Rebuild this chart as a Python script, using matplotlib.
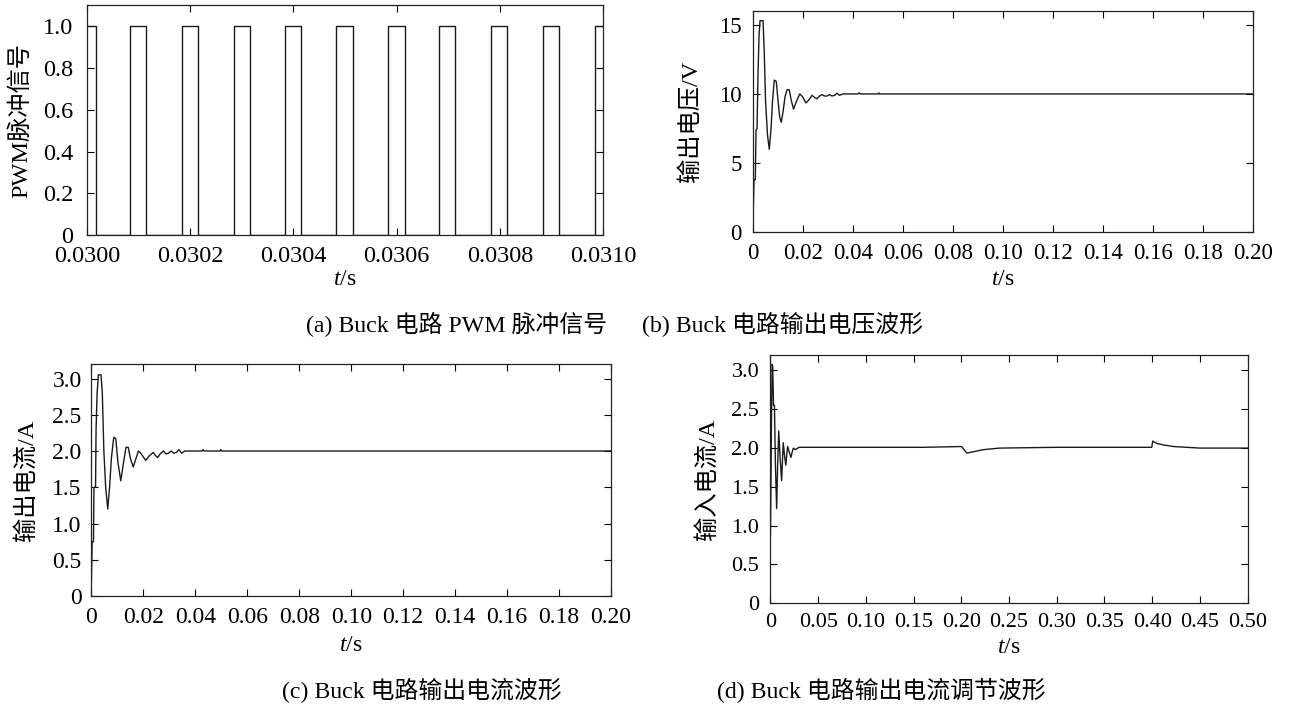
import numpy as np
import matplotlib
matplotlib.use('Agg')
import matplotlib.pyplot as plt

plt.rcParams['font.family'] = ['Liberation Serif', 'Noto Sans CJK SC']
plt.rcParams['mathtext.fontset'] = 'custom'
plt.rcParams['mathtext.rm'] = 'Liberation Serif'
plt.rcParams['mathtext.it'] = 'Liberation Serif:italic'

# (a) PWM pulse edges
pwm_rise = [0.0300831, 0.0301843, 0.0302848, 0.0303829, 0.0304834,
            0.0305839, 0.0306820, 0.0307824, 0.0308837, 0.0309842]
pwm_fall = [0.0300174, 0.0301147, 0.0302160, 0.0303165, 0.0304146,
            0.0305150, 0.0306155, 0.0307136, 0.0308141, 0.0309153]

# (b) output voltage
v_t = [0.0, 0.0004, 0.0009, 0.0012, 0.0016, 0.002, 0.0024, 0.0028, 0.004,
       0.0045, 0.005, 0.0058, 0.0065, 0.0072, 0.0078, 0.0085, 0.0093, 0.0100,
       0.0107, 0.0113, 0.0120, 0.0128, 0.0136, 0.0145, 0.0152, 0.0162, 0.0172,
       0.0187, 0.0198, 0.0212, 0.0225, 0.0236, 0.0246, 0.0256, 0.0266, 0.0276,
       0.0286, 0.0296, 0.0306, 0.0316, 0.0326, 0.0336, 0.0346, 0.036, 0.042,
       0.0425, 0.043, 0.05, 0.0503, 0.0506, 0.2]
v_val = [1.0, 3.8, 3.8, 7.4, 7.5, 11.5, 14.2, 15.3, 15.3,
         13.0, 9.5, 7.0, 6.0, 7.5, 9.5, 11.0, 10.9, 9.5,
         8.3, 7.95, 8.7, 9.8, 10.3, 10.3, 9.6, 8.9, 9.4,
         10.0, 9.8, 9.35, 9.6, 9.9, 9.75, 9.65, 9.85, 9.95,
         9.85, 9.85, 9.95, 9.85, 9.9, 10.05, 9.9, 10.0, 10.0,
         10.08, 10.0, 10.0, 10.08, 10.0, 10.0]

# (c) output current
io_t = [0.0, 0.0003, 0.0008, 0.001, 0.0016, 0.0018, 0.0022, 0.0027, 0.0037,
        0.0042, 0.0048, 0.0055, 0.0063, 0.007, 0.0077, 0.0086, 0.0094, 0.0102,
        0.0113, 0.0122, 0.0133, 0.0142, 0.015, 0.0161, 0.017, 0.0181, 0.019,
        0.0209, 0.0222, 0.0238, 0.0246, 0.0255, 0.0265, 0.0277, 0.0287, 0.0297,
        0.0307, 0.0317, 0.0327, 0.0337, 0.0347, 0.036, 0.0426, 0.043, 0.0434,
        0.0495, 0.0498, 0.0501, 0.2]
io_val = [0.2, 0.75, 0.75, 1.5, 1.5, 2.3, 2.8, 3.05, 3.05,
          2.8, 2.0, 1.5, 1.2, 1.5, 1.9, 2.19, 2.17, 1.85,
          1.59, 1.8, 2.05, 2.05, 1.9, 1.78, 1.88, 2.0, 1.97,
          1.87, 1.93, 1.98, 1.94, 1.91, 1.96, 2.0, 1.96, 1.97,
          2.0, 1.97, 1.98, 2.02, 1.97, 2.0, 2.0, 2.02, 2.0,
          2.0, 2.02, 2.0, 2.0]

# (d) input current
ii_t = [0.0, 0.0005, 0.0012, 0.0018, 0.0024, 0.0032, 0.0042, 0.0052, 0.0065,
        0.0076, 0.0087, 0.0100, 0.0117, 0.0125, 0.0134, 0.0148, 0.0161, 0.017,
        0.018, 0.0197, 0.0215, 0.0228, 0.024, 0.026, 0.03, 0.08, 0.12, 0.16,
        0.2004, 0.2057, 0.2231, 0.24, 0.30, 0.35, 0.3995, 0.4006, 0.4048,
        0.412, 0.4224, 0.45, 0.5]
ii_val = [0.88, 1.5, 2.5, 3.08, 3.05, 2.55, 2.55, 1.8, 1.22,
          1.8, 2.22, 1.9, 1.58, 1.8, 2.07, 1.9, 1.78, 1.9,
          2.02, 1.95, 1.88, 1.95, 2.0, 1.98, 2.01, 2.01, 2.01, 2.01,
          2.02, 1.935, 1.98, 2.0, 2.01, 2.01, 2.01, 2.09, 2.06,
          2.04, 2.02, 2.0, 2.0]

a_xticks = [0.0300, 0.0302, 0.0304, 0.0306, 0.0308, 0.0310]
a_xlabels = ['0.0300', '0.0302', '0.0304', '0.0306', '0.0308', '0.0310']
a_yticks = [0, 0.2, 0.4, 0.6, 0.8, 1.0]
a_ylabels = ['0', '0.2', '0.4', '0.6', '0.8', '1.0']
b_xticks = [0, 0.02, 0.04, 0.06, 0.08, 0.10, 0.12, 0.14, 0.16, 0.18, 0.20]
b_xlabels = ['0', '0.02', '0.04', '0.06', '0.08', '0.10', '0.12', '0.14', '0.16', '0.18', '0.20']
b_yticks = [0, 5, 10, 15]
b_ylabels = ['0', '5', '10', '15']
c_yticks = [0, 0.5, 1.0, 1.5, 2.0, 2.5, 3.0]
c_ylabels = ['0', '0.5', '1.0', '1.5', '2.0', '2.5', '3.0']
d_xticks = [0, 0.05, 0.10, 0.15, 0.20, 0.25, 0.30, 0.35, 0.40, 0.45, 0.50]
d_xlabels = ['0', '0.05', '0.10', '0.15', '0.20', '0.25', '0.30', '0.35', '0.40', '0.45', '0.50']

LINE = '#1a1a1a'


def style(ax, xticks, xlabels, yticks, ylabels, xlim, ylim, ylabel, ylab_x, xlab_y,
          fs=17, xpad=8, ypad=8):
    ax.set_xlim(*xlim)
    ax.set_ylim(*ylim)
    ax.set_xticks(xticks)
    ax.set_xticklabels(xlabels, fontsize=fs)
    ax.set_yticks(yticks)
    ax.set_yticklabels(ylabels, fontsize=fs)
    ax.tick_params(direction='in', length=5, width=0.8, top=True, right=True)
    ax.tick_params(axis='x', pad=xpad)
    ax.tick_params(axis='y', pad=ypad)
    for s in ax.spines.values():
        s.set_linewidth(0.9)
        s.set_color('#222222')
    ax.set_xlabel(r'$t$/s', fontsize=17)
    ax.xaxis.set_label_coords(0.5, xlab_y)
    ax.set_ylabel(ylabel, fontsize=17.5)
    ax.yaxis.set_label_coords(ylab_x, 0.5)


fig = plt.figure(figsize=(12.89, 7.06), dpi=100)
ax_a = fig.add_axes([0.0675, 0.6667, 0.4003, 0.3258])
ax_b = fig.add_axes([0.5842, 0.6710, 0.3879, 0.3135])
ax_c = fig.add_axes([0.0709, 0.1558, 0.4031, 0.3286])
ax_d = fig.add_axes([0.5977, 0.1455, 0.3702, 0.3517])

# build the PWM step trace from the edges
edges = sorted([(t, 1) for t in pwm_rise] + [(t, 0) for t in pwm_fall])
px = [0.0300]
py = [1.0]
for t, lvl in edges:
    px += [t, t]
    py += [1 - lvl, lvl]
px.append(0.0310)
py.append(1.0)
ax_a.plot(px, py, color=LINE, lw=1.0)

ax_b.plot(v_t, v_val, color=LINE, lw=1.0)
ax_c.plot(io_t, io_val, color=LINE, lw=1.0)
ax_d.plot(ii_t, ii_val, color=LINE, lw=1.0)

style(ax_a, a_xticks, a_xlabels, a_yticks, a_ylabels, (0.0300, 0.0310), (0, 1.1),
      'PWM脉冲信号', -0.107, -0.147, fs=17.5, xpad=8, ypad=10)
style(ax_b, b_xticks, b_xlabels, b_yticks, b_ylabels, (0, 0.2), (0, 16),
      '输出电压/V', -0.102, -0.166, fs=16.5, xpad=8, ypad=8)
style(ax_c, b_xticks, b_xlabels, c_yticks, c_ylabels, (0, 0.2), (0, 3.2),
      '输出电流/A', -0.103, -0.168, fs=17, xpad=8, ypad=7)
style(ax_d, d_xticks, d_xlabels, c_yticks, c_ylabels, (0, 0.5), (0, 3.2),
      '输入电流/A', -0.108, -0.136, fs=16, xpad=7, ypad=8)

cap = 17.2
fig.text(607 / 1289, 1 - 325 / 706, '(a) Buck 电路 PWM 脉冲信号', fontsize=cap, ha='right', va='center')
fig.text(642 / 1289, 1 - 325 / 706, '(b) Buck 电路输出电压波形', fontsize=cap, ha='left', va='center')
fig.text(422 / 1289, 1 - 690 / 706, '(c) Buck 电路输出电流波形', fontsize=cap, ha='center', va='center')
fig.text(717 / 1289, 1 - 690 / 706, '(d) Buck 电路输出电流调节波形', fontsize=cap, ha='left', va='center')

fig.savefig('out.png', dpi=100)
